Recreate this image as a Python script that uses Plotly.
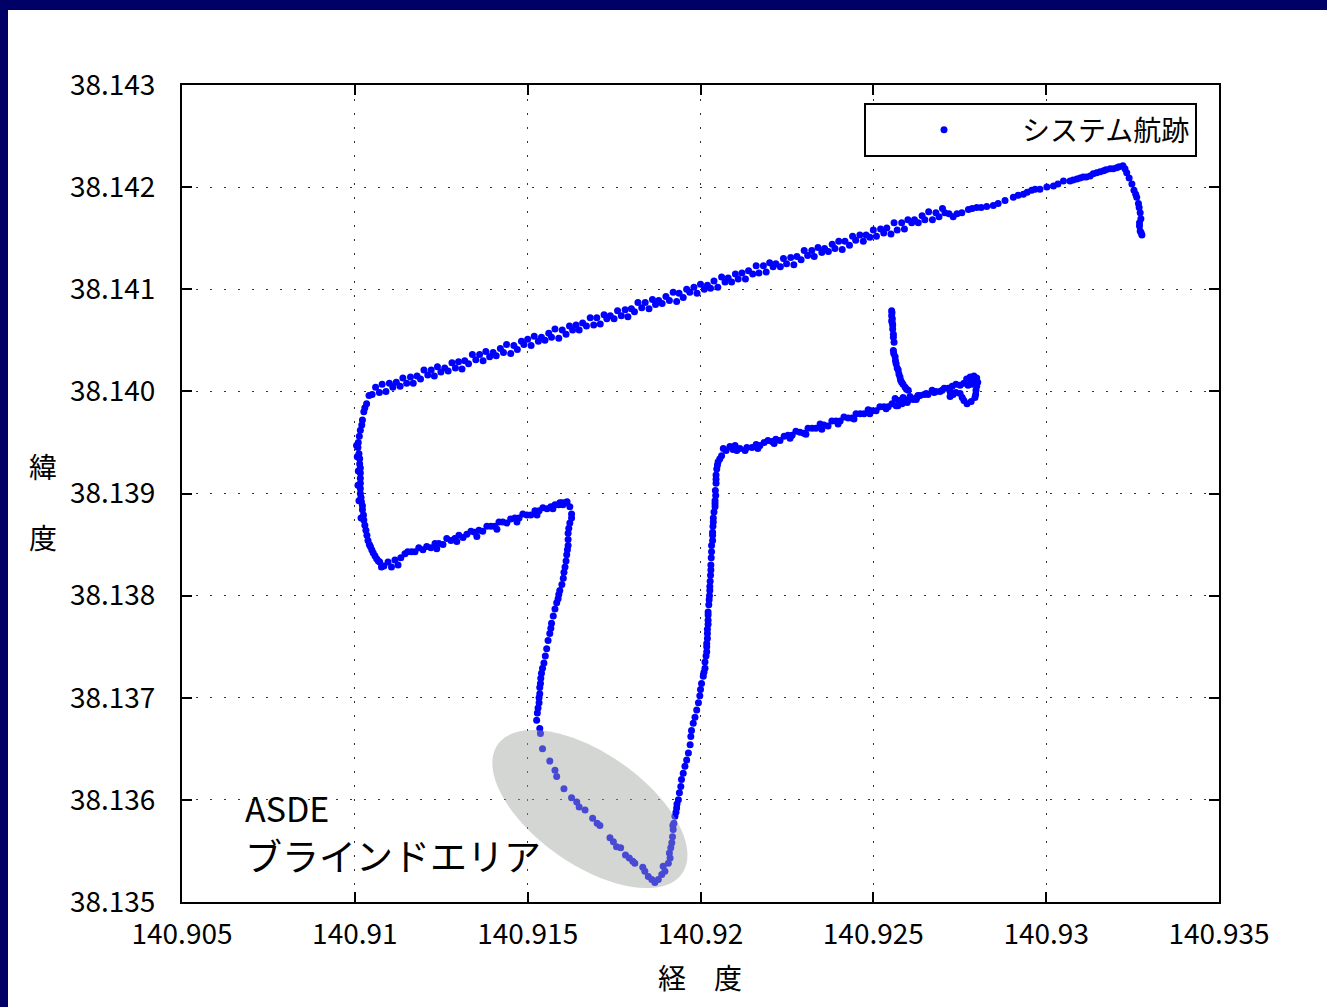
import numpy as np
import plotly.graph_objects as go

# ---------------- data (longitude / latitude) ----------------
seg_peak_lon = [140.93222,140.93228,140.93233,140.93240,140.93248,140.93254,140.93259,140.93262,140.93267,140.93269,140.93272,140.93274,140.93270,140.93270,140.93272,140.93275,140.93277]
seg_peak_lat = [38.14221,38.14218,38.14214,38.14209,38.14203,38.14197,38.14193,38.14190,38.14184,38.14180,38.14175,38.14169,38.14165,38.14162,38.14157,38.14155,38.14153]

seg_ne_lon = [140.93211,140.93204,140.93194,140.93185,140.93173,140.93166,140.93156,140.93146,140.93136,140.93127,140.93116,140.93107,140.93098,140.93089,140.93078,140.93069,140.93050,140.93034,140.93021,140.93002,140.92982,140.92968,140.92958,140.92945,140.92934,140.92919,140.92905,140.92881,140.92861,140.92847,140.92828,140.92812,140.92799,140.92786,140.92775,140.92756,140.92742,140.92731,140.92719,140.92707]
seg_ne_lat = [38.14220,38.14219,38.14218,38.14218,38.14217,38.14216,38.14215,38.14214,38.14213,38.14211,38.14210,38.14210,38.14209,38.14208,38.14207,38.14206,38.14206,38.14203,38.14201,38.14200,38.14198,38.14198,38.14197,38.14195,38.14193,38.14192,38.14190,38.14187,38.14184,38.14182,38.14181,38.14180,38.14180,38.14179,38.14178,38.14175,38.14174,38.14171,38.14174,38.14175]

seg_na_lon = [140.92700,140.92681,140.92660,140.92641,140.92619,140.92600,140.92582,140.92560,140.92539,140.92521,
              140.92500,140.92479,140.92461,140.92440,140.92418,140.92400,140.92381,140.92359,140.92340,140.92322,
              140.92300,140.92279,140.92261,140.92240,140.92218,140.92200,140.92182,140.92161,140.92139,140.92120,
              140.92101,140.92080,140.92061,140.92039,140.92020,140.92000,140.91981,140.91960,140.91938,140.91921,
              140.91900,140.91879,140.91861,140.91840,140.91819,140.91800,140.91782,140.91760,140.91739,140.91721,
              140.91700,140.91681,140.91659,140.91640,140.91621,140.91600,140.91579,140.91561,140.91540,140.91519,
              140.91500,140.91482,140.91460,140.91439,140.91421,140.91400,140.91379,140.91361,140.91340,140.91318,
              140.91300,140.91281,140.91260,140.91239,140.91221,140.91200,140.91180,140.91161,140.91139,140.91120,
              140.91100,140.91079,140.91060]
seg_na_lat = [38.14179,38.14175,38.14176,38.14172,38.14168,38.14168,38.14165,38.14165,38.14160,38.14159,
              38.14158,38.14153,38.14153,38.14152,38.14147,38.14147,38.14144,38.14140,38.14141,38.14138,
              38.14138,38.14132,38.14131,38.14130,38.14125,38.14126,38.14123,38.14123,38.14118,38.14116,
              38.14115,38.14111,38.14112,38.14108,38.14104,38.14105,38.14102,38.14100,38.14096,38.14097,
              38.14093,38.14089,38.14090,38.14087,38.14087,38.14081,38.14080,38.14079,38.14074,38.14075,
              38.14072,38.14072,38.14067,38.14065,38.14064,38.14060,38.14061,38.14057,38.14053,38.14054,
              38.14051,38.14049,38.14045,38.14046,38.14042,38.14038,38.14039,38.14036,38.14036,38.14030,
              38.14029,38.14028,38.14023,38.14024,38.14021,38.14021,38.14015,38.14014,38.14013,38.14009,
              38.14008,38.14007,38.14004]

seg_nb_lon = [140.92690,140.92671,140.92649,140.92630,140.92611,140.92590,140.92569,140.92551,140.92530,140.92509,
              140.92490,140.92471,140.92449,140.92431,140.92410,140.92389,140.92370,140.92351,140.92329,140.92310,
              140.92291,140.92270,140.92249,140.92231,140.92210,140.92190,140.92169,140.92151,140.92130,140.92109,
              140.92090,140.92071,140.92050,140.92029,140.92011,140.91990,140.91969,140.91950,140.91931,140.91910,
              140.91889,140.91870,140.91851,140.91830,140.91809,140.91790,140.91771,140.91750,140.91729,140.91710,
              140.91691,140.91670,140.91649,140.91630,140.91611,140.91590,140.91569,140.91550,140.91531,140.91510,
              140.91489,140.91470,140.91451,140.91430,140.91409,140.91390,140.91371,140.91350,140.91329,140.91310,
              140.91291,140.91270,140.91249,140.91230,140.91211,140.91190,140.91169,140.91150,140.91131,140.91110,
              140.91090,140.91071,140.91050]
seg_nb_lat = [38.14171,38.14168,38.14168,38.14165,38.14165,38.14159,38.14158,38.14154,38.14155,38.14152,
              38.14151,38.14147,38.14148,38.14143,38.14139,38.14140,38.14137,38.14136,38.14132,38.14133,
              38.14129,38.14124,38.14125,38.14122,38.14122,38.14117,38.14116,38.14115,38.14110,38.14110,
              38.14107,38.14107,38.14102,38.14101,38.14100,38.14096,38.14097,38.14092,38.14088,38.14089,
              38.14086,38.14085,38.14081,38.14082,38.14078,38.14073,38.14074,38.14071,38.14071,38.14066,
              38.14065,38.14064,38.14060,38.14060,38.14056,38.14052,38.14053,38.14050,38.14049,38.14045,
              38.14046,38.14041,38.14037,38.14038,38.14035,38.14034,38.14030,38.14031,38.14027,38.14022,
              38.14023,38.14020,38.14019,38.14015,38.14016,38.14012,38.14008,38.14008,38.14005,38.14004,
              38.14000,38.13999,38.13997]

seg_w_lon = [140.91041,140.91034,140.91029,140.91026,140.91022,140.91020,140.91016,140.91013,140.91010,140.91009,
             140.91012,140.91014,140.91014,140.91016,140.91016,140.91016,140.91016,140.91016,140.91016,140.91018,
             140.91019,140.91022,140.91022,140.91025,140.91026,140.91029,140.91032,140.91035,140.91038,140.91042,
             140.91045,140.91049,140.91053,140.91058,140.91063,140.91068,140.91072,140.91077,140.91084,140.91096,
             140.91106,140.91116,140.91125,140.91133,140.91145,140.91153,140.91164,
             140.91005,140.91007,140.91010,140.91009,140.91012,140.91018]
seg_w_lat = [38.13996,38.13988,38.13984,38.13980,38.13972,38.13967,38.13962,38.13956,38.13950,38.13945,
             38.13939,38.13934,38.13929,38.13925,38.13920,38.13915,38.13910,38.13905,38.13900,38.13896,
             38.13892,38.13888,38.13884,38.13879,38.13874,38.13869,38.13864,38.13859,38.13854,38.13850,
             38.13848,38.13845,38.13842,38.13839,38.13836,38.13834,38.13833,38.13828,38.13829,38.13833,
             38.13828,38.13835,38.13830,38.13837,38.13841,38.13843,38.13843,
             38.13947,38.13936,38.13922,38.13908,38.13893,38.13876]

seg_s_lon = [140.91174,140.91185,140.91197,140.91208,140.91220,140.91232,140.91243,140.91255,140.91266,140.91278,
             140.91289,140.91301,140.91313,140.91324,140.91336,140.91347,140.91359,140.91370,140.91382,140.91394,
             140.91405,140.91417,140.91428,140.91440,140.91451,140.91463,140.91475,140.91486,140.91498,140.91509,
             140.91521,140.91533,140.91544,140.91556,140.91567,140.91579,140.91590,140.91599,140.91608,140.91614,
             140.91237,140.91295,140.91353,140.91411,140.91469,140.91527,140.91573,140.91593,140.91602]
seg_s_lat = [38.13843,38.13847,38.13845,38.13848,38.13847,38.13851,38.13851,38.13850,38.13856,38.13854,
             38.13856,38.13859,38.13857,38.13860,38.13863,38.13862,38.13864,38.13863,38.13868,38.13868,
             38.13868,38.13872,38.13872,38.13871,38.13875,38.13876,38.13876,38.13880,38.13879,38.13879,
             38.13883,38.13883,38.13886,38.13885,38.13887,38.13889,38.13889,38.13891,38.13891,38.13892,
             38.13846,38.13853,38.13858,38.13865,38.13872,38.13879,38.13885,38.13891,38.13889]

seg_d_lon = [140.91622,140.91627,140.91627,140.91622,140.91619,140.91617,140.91617,140.91617,140.91615,140.91613,
             140.91611,140.91608,140.91605,140.91603,140.91599,140.91593,140.91590,140.91588,140.91584,140.91579,
             140.91574,140.91569,140.91567,140.91564,140.91559,140.91555,140.91551,140.91547,140.91543,140.91540,
             140.91538,140.91537,140.91535,140.91535,140.91533,140.91533,140.91530,140.91528,140.91526]
seg_d_lat = [38.13887,38.13880,38.13876,38.13871,38.13866,38.13861,38.13855,38.13849,38.13845,38.13840,
             38.13834,38.13828,38.13823,38.13817,38.13811,38.13805,38.13801,38.13797,38.13793,38.13787,
             38.13780,38.13773,38.13768,38.13763,38.13756,38.13748,38.13741,38.13734,38.13729,38.13724,
             38.13719,38.13714,38.13710,38.13704,38.13700,38.13695,38.13690,38.13685,38.13678]

seg_blind_lon = [140.91535,140.91537,140.91543,140.91564,140.91579,140.91584,140.91605,140.91627,140.91642,140.91649,
                 140.91666,140.91688,140.91701,140.91709,140.91738,140.91748,140.91757,140.91769,140.91783,140.91794,
                 140.91804,140.91810,140.91833,140.91839,140.91849,140.91859,140.91868,140.91878,140.91888,140.91892,
                 140.91907,140.91910,140.91917,140.91919,140.91921,140.91923,140.91926,
                 140.91897,140.91912,140.91914,140.91920,140.91929,140.91932]
seg_blind_lat = [38.13670,38.13665,38.13650,38.13638,38.13629,38.13623,38.13611,38.13602,38.13598,38.13593,
                 38.13590,38.13582,38.13577,38.13575,38.13563,38.13559,38.13554,38.13553,38.13546,38.13543,
                 38.13540,38.13538,38.13534,38.13530,38.13525,38.13522,38.13519,38.13522,38.13527,38.13535,
                 38.13538,38.13548,38.13558,38.13564,38.13571,38.13577,38.13584,
                 38.13530,38.13543,38.13553,38.13575,38.13588,38.13596]

seg_up_lon = [140.91931,140.91936,140.91939,140.91943,140.91945,140.91950,140.91955,140.91960,140.91965,140.91970,
              140.91972,140.91974,140.91979,140.91984,140.91989,140.91994,140.91998,140.92000,140.92003,140.92008,
              140.92010,140.92013,140.92013,140.92016,140.92018,140.92018,140.92018,140.92020,140.92020,140.92020,
              140.92022,140.92022,140.92022,140.92022,140.92024,140.92025,140.92026,140.92027,140.92027,140.92028,
              140.92029,140.92030,140.92030,140.92031,140.92032,140.92032,140.92035,140.92035,140.92035,140.92036,
              140.92037,140.92037,140.92039,140.92042,140.92042,140.92042,140.92044,140.92043,140.92045,140.92045,
              140.92045,140.92047,140.92049,140.92051,140.92056,140.92061,140.92066,140.92074,140.92085,140.92094,
              140.92100,140.92105,140.92114,140.92129,140.92134]
seg_up_lat = [38.13592,38.13600,38.13607,38.13613,38.13620,38.13626,38.13633,38.13639,38.13646,38.13654,
              38.13662,38.13668,38.13675,38.13681,38.13688,38.13695,38.13702,38.13708,38.13714,38.13721,
              38.13725,38.13729,38.13735,38.13741,38.13745,38.13750,38.13753,38.13758,38.13763,38.13767,
              38.13772,38.13776,38.13781,38.13784,38.13791,38.13796,38.13800,38.13805,38.13809,38.13814,
              38.13820,38.13825,38.13830,38.13837,38.13843,38.13849,38.13854,38.13859,38.13862,38.13868,
              38.13872,38.13876,38.13882,38.13887,38.13890,38.13893,38.13898,38.13903,38.13910,38.13914,
              38.13918,38.13924,38.13928,38.13931,38.13934,38.13937,38.13944,38.13942,38.13946,38.13943,
              38.13947,38.13942,38.13944,38.13942,38.13945]

seg_e_lon = [140.92149,140.92161,140.92172,140.92184,140.92195,140.92207,140.92218,140.92230,140.92242,140.92253,
             140.92265,140.92276,140.92288,140.92299,140.92311,140.92323,140.92334,140.92346,140.92357,140.92369,
             140.92380,140.92392,140.92404,140.92415,140.92427,140.92438,140.92450,140.92462,140.92473,140.92485,
             140.92496,140.92508,140.92519,140.92531,140.92543,140.92554,140.92566,140.92577,140.92589,140.92600,
             140.92612,140.92624,140.92635,140.92647,140.92658,140.92670,140.92681,140.92693,140.92705,140.92716,
             140.92728,140.92739,140.92751,140.92762,140.92774,140.92786,
             140.92166,140.92213,140.92259,140.92305,140.92351,140.92398,140.92444,140.92490,140.92537,140.92571,
             140.92583,140.92595,140.92606,140.92629,140.92653,140.92676,140.92699,140.92722]
seg_e_lat = [38.13945,38.13948,38.13947,38.13950,38.13952,38.13951,38.13953,38.13952,38.13956,38.13957,
             38.13957,38.13961,38.13960,38.13959,38.13964,38.13964,38.13964,38.13968,38.13967,38.13966,
             38.13971,38.13971,38.13971,38.13975,38.13974,38.13974,38.13978,38.13978,38.13978,38.13982,
             38.13981,38.13981,38.13985,38.13985,38.13985,38.13988,38.13986,38.13990,38.13992,38.13991,
             38.13993,38.13992,38.13996,38.13997,38.13997,38.14001,38.14000,38.14000,38.14003,38.14003,
             38.14005,38.14007,38.14006,38.14008,38.14011,38.14011,
             38.13944,38.13949,38.13954,38.13958,38.13963,38.13968,38.13973,38.13978,38.13983,38.13986,
             38.13988,38.13990,38.13995,38.13996,38.13998,38.13999,38.14001,38.14000]

seg_hook_lon = [140.92770,140.92780,140.92791,140.92799,140.92802,140.92799,140.92797,140.92796,140.92794,140.92783,
                140.92771,140.92762,140.92757,140.92751,140.92739,140.92731,140.92722,140.92774,140.92786,140.92794]
seg_hook_lat = [38.14012,38.14014,38.14015,38.14013,38.14009,38.14005,38.14001,38.13997,38.13994,38.13990,
                38.13988,38.13991,38.13994,38.13998,38.13999,38.13997,38.13995,38.14006,38.14007,38.14008]

seg_spur_lon = [140.92553,140.92554,140.92553,140.92555,140.92553,140.92555,140.92556,140.92556,140.92558,140.92558,
                140.92560,140.92558,140.92559,140.92563,140.92564,140.92566,140.92569,140.92572,140.92574,140.92577,
                140.92579,140.92582,140.92586,140.92592,140.92596,140.92601,
                140.92563,140.92574,140.92586,140.92598,140.92615,140.92626]
seg_spur_lat = [38.14079,38.14077,38.14074,38.14071,38.14069,38.14067,38.14065,38.14061,38.14056,38.14053,
                38.14048,38.14040,38.14037,38.14034,38.14030,38.14027,38.14023,38.14021,38.14017,38.14014,
                38.14011,38.14009,38.14007,38.14004,38.14002,38.14001,
                38.13993,38.13991,38.13994,38.13989,38.13992,38.13994]

x_tick_values = [140.905, 140.91, 140.915, 140.92, 140.925, 140.93, 140.935]
x_tick_labels = ["140.905", "140.91", "140.915", "140.92", "140.925", "140.93", "140.935"]
y_tick_values = [38.135, 38.136, 38.137, 38.138, 38.139, 38.140, 38.141, 38.142, 38.143]
y_tick_labels = ["38.135", "38.136", "38.137", "38.138", "38.139", "38.140", "38.141", "38.142", "38.143"]

series_name = "システム航跡"

# ---------------- assemble ----------------
segments = [
    (seg_peak_lon, seg_peak_lat), (seg_ne_lon, seg_ne_lat), (seg_na_lon, seg_na_lat),
    (seg_nb_lon, seg_nb_lat), (seg_w_lon, seg_w_lat), (seg_s_lon, seg_s_lat),
    (seg_d_lon, seg_d_lat), (seg_blind_lon, seg_blind_lat), (seg_up_lon, seg_up_lat),
    (seg_e_lon, seg_e_lat), (seg_hook_lon, seg_hook_lat), (seg_spur_lon, seg_spur_lat),
]
lon, lat = [], []
for a, b in segments:
    n = min(len(a), len(b))
    lon += a[:n]
    lat += b[:n]

# ---------------- layout constants ----------------
W, H = 1327, 1007
ML, MR, MT, MB = 182, 108, 85, 105
PW, PH = W - ML - MR, H - MT - MB
X_RANGE = [140.905, 140.935]
Y_RANGE = [38.135, 38.143]
FONT = "Noto Sans CJK JP"
NAVY = "#000066"


def px_x(px):
    return (px - ML) / PW


def px_y(py):
    return (H - MB - py) / PH


fig = go.Figure()
fig.add_trace(go.Scatter(
    x=lon, y=lat, mode="markers", name=series_name,
    marker=dict(color="#0000FF", size=7, line=dict(width=0)),
))

# ASDE blind-area ellipse (drawn over the points, semi-transparent)
ELL_CENTER = (140.9168, 38.13591)
ELL_A, ELL_B, ELL_ANGLE = 112.5, 55.7, 35.0  # pixels, degrees
t = np.linspace(0, 2 * np.pi, 145)
th = np.radians(ELL_ANGLE)
dx = ELL_A * np.cos(th) * np.cos(t) - ELL_B * np.sin(th) * np.sin(t)
dy = ELL_A * np.sin(th) * np.cos(t) + ELL_B * np.cos(th) * np.sin(t)
ex = ELL_CENTER[0] + dx * (X_RANGE[1] - X_RANGE[0]) / PW
ey = ELL_CENTER[1] - dy * (Y_RANGE[1] - Y_RANGE[0]) / PH
path = "M " + " L ".join(f"{a:.7f},{b:.7f}" for a, b in zip(ex, ey)) + " Z"
fig.add_shape(type="path", path=path, xref="x", yref="y",
              fillcolor="rgba(160,163,158,0.45)", line=dict(width=0), layer="above")

# navy frame strips (left and top)
fig.add_shape(type="rect", xref="paper", yref="paper",
              x0=px_x(0), x1=px_x(8), y0=px_y(H), y1=px_y(0),
              fillcolor=NAVY, line=dict(width=0), layer="above")
fig.add_shape(type="rect", xref="paper", yref="paper",
              x0=px_x(0), x1=px_x(W), y0=px_y(10), y1=px_y(0),
              fillcolor=NAVY, line=dict(width=0), layer="above")

# texts
fig.add_annotation(text="ASDE", xref="paper", yref="paper", x=px_x(243), y=px_y(807),
                   xanchor="left", yanchor="middle", showarrow=False,
                   font=dict(family=FONT, size=34, color="black"))
fig.add_annotation(text="ブラインドエリア", xref="paper", yref="paper", x=px_x(243), y=px_y(855),
                   xanchor="left", yanchor="middle", showarrow=False,
                   font=dict(family=FONT, size=37, color="black"))
fig.add_annotation(text="緯", xref="paper", yref="paper", x=px_x(43), y=px_y(466),
                   xanchor="center", yanchor="middle", showarrow=False,
                   font=dict(family=FONT, size=28, color="black"))
fig.add_annotation(text="度", xref="paper", yref="paper", x=px_x(43), y=px_y(537),
                   xanchor="center", yanchor="middle", showarrow=False,
                   font=dict(family=FONT, size=28, color="black"))
fig.add_annotation(text="経　度", xref="paper", yref="paper", x=px_x(700), y=px_y(977),
                   xanchor="center", yanchor="middle", showarrow=False,
                   font=dict(family=FONT, size=28, color="black"))

axis_common = dict(
    showgrid=True, gridcolor="#333333", gridwidth=1, griddash="2px,12px",
    showline=True, linecolor="black", linewidth=2, mirror="allticks",
    ticks="inside", ticklen=10, tickwidth=1.5, tickcolor="black",
    tickfont=dict(family=FONT, size=28, color="black"),
    zeroline=False, tickmode="array",
)

fig.update_xaxes(range=X_RANGE, tickvals=x_tick_values, ticktext=x_tick_labels,
                 ticklabelstandoff=6, **axis_common)
fig.update_yaxes(range=Y_RANGE, tickvals=y_tick_values, ticktext=y_tick_labels,
                 ticklabelstandoff=19, **axis_common)

fig.update_layout(
    width=W, height=H,
    margin=dict(l=ML, r=MR, t=MT, b=MB, pad=0),
    paper_bgcolor="white", plot_bgcolor="white",
    showlegend=True,
    legend=dict(x=px_x(1197), y=px_y(103), xanchor="right", yanchor="top",
                bordercolor="black", borderwidth=2, bgcolor="white",
                itemwidth=146,
                font=dict(family=FONT, size=28, color="black")),
    font=dict(family=FONT, color="black"),
)

fig.write_html("out.html",
               config={"displayModeBar": False},
               post_script="document.body.style.margin='0';document.body.style.overflow='hidden';")
